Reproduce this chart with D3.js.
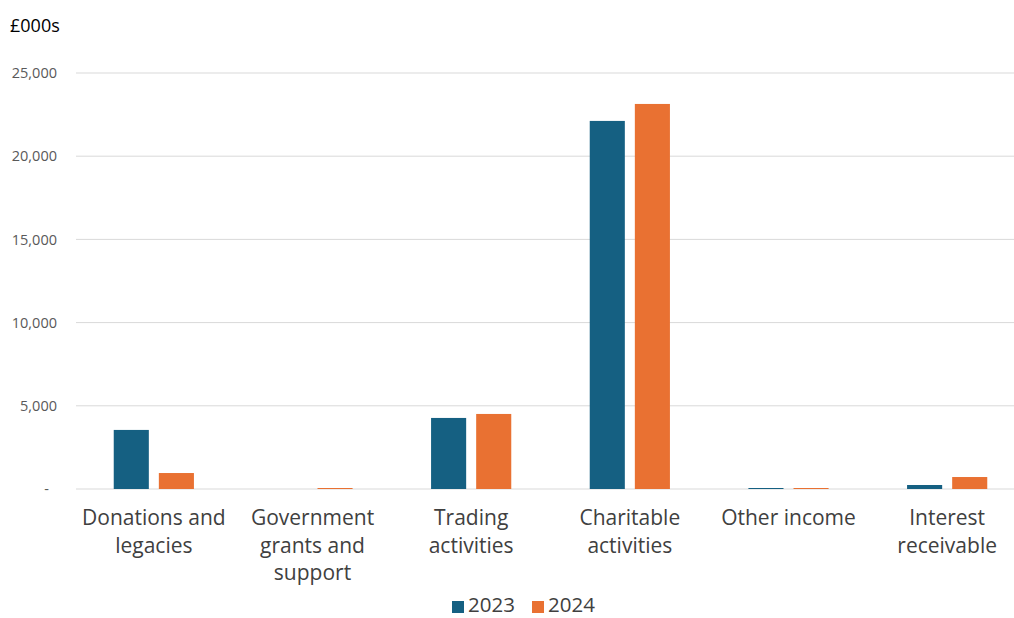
<!DOCTYPE html>
<html><head><meta charset="utf-8">
<script src="https://cdn.jsdelivr.net/npm/d3@7"></script>
<style>body{margin:0;background:#fff;}svg{display:block;font-family:"Open Sans",sans-serif;}</style>
</head><body><svg id="c" width="1014" height="618"></svg>
<script>
const categories = [["Donations and","legacies"],["Government","grants and","support"],["Trading","activities"],["Charitable","activities"],["Other income"],["Interest","receivable"]];
const categoryKeys = ["Donations and legacies","Government grants and support","Trading activities","Charitable activities","Other income","Interest receivable"];
const seriesNames = ["2023","2024"];
const values2023 = [3550, 0, 4270, 22120, 60, 240];
const values2024 = [960, 60, 4510, 23140, 60, 720];
const yTicks = [0,5000,10000,15000,20000,25000];
const colors = ["#156082","#E97132"];

const svg = d3.select("#c");
const x0 = d3.scaleBand().domain(categoryKeys).range([74.5,1026.5]).paddingInner(0).paddingOuter(0);
const y = d3.scaleLinear().domain([0,25000]).range([489,73]);
const x1 = d3.scaleBand().domain(seriesNames).range([0,x0.bandwidth()]).paddingInner(0.222).paddingOuter(0.87);

// gridlines
svg.append("g").selectAll("line").data(yTicks).join("line")
  .attr("x1",76).attr("x2",1014).attr("y1",d=>y(d)).attr("y2",d=>y(d))
  .attr("stroke","#d9d9d9").attr("stroke-width",1);

// y labels
const yAxis = d3.axisLeft(y).tickValues(yTicks).tickSize(0).tickPadding(0)
  .tickFormat(d=> d===0 ? "-" : d3.format(",")(d));
const ya = svg.append("g").attr("transform","translate(57,0)").call(yAxis);
ya.select(".domain").remove();
ya.selectAll("text").attr("font-family","Open Sans, sans-serif").attr("font-size",14.5).attr("fill","#595959")
  .attr("dx", d=> d===0 ? -8 : 0);

// bars
const data = categoryKeys.map((c,i)=>({c, v:[values2023[i],values2024[i]]}));
const g = svg.append("g").selectAll("g").data(data).join("g").attr("transform",d=>`translate(${x0(d.c)},0)`);
g.selectAll("rect").data(d=>d.v.map((v,j)=>({v,j}))).join("rect")
  .attr("x",d=>x1(seriesNames[d.j])).attr("width",x1.bandwidth())
  .attr("y",d=>y(d.v)).attr("height",d=>y(0)-y(d.v)).attr("fill",d=>colors[d.j]);

// category labels
const xa = svg.append("g");
categoryKeys.forEach((c,i)=>{
  const cx = x0(c)+x0.bandwidth()/2;
  const t = xa.append("text").attr("x",cx).attr("y",525)
    .attr("text-anchor","middle").attr("font-size",21).attr("fill","#404040");
  categories[i].forEach((line,k)=>t.append("tspan").attr("x",cx).attr("dy",k===0?0:27.5).text(line));
});

// unit label
svg.append("text").attr("x",10).attr("y",32).attr("font-size",18).attr("fill","#000").text("£000s");

// legend
const lg = svg.append("g");
const legX = [452,532];
seriesNames.forEach((s,i)=>{
  lg.append("rect").attr("x",legX[i]).attr("y",601).attr("width",12).attr("height",12).attr("fill",colors[i]);
  lg.append("text").attr("x",legX[i]+16).attr("y",612).attr("font-size",20.5).attr("fill","#404040").text(s);
});
</script></body></html>
